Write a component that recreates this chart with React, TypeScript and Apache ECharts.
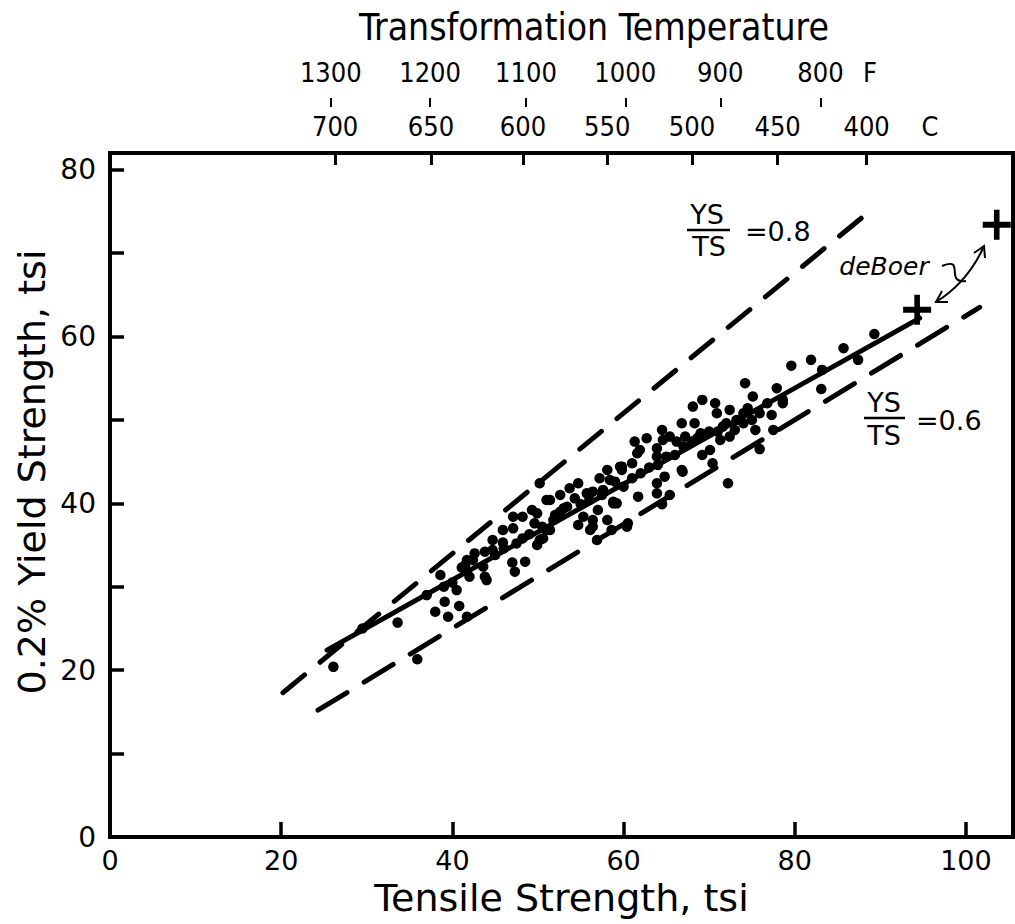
import React, { useEffect, useRef } from "react";
import * as echarts from "echarts";

// ---- Data ----
// Tensile strength (tsi) vs 0.2% yield strength (tsi) for each heat
const heats: number[][] = [
  [26.1, 20.4], [29.5, 25.0], [33.6, 25.7], [35.9, 21.3], [38.0, 27.0], [39.1, 28.2],
  [39.5, 26.4], [40.5, 29.6], [40.8, 27.7], [41.7, 26.4], [38.6, 31.4], [41.5, 32.6],
  [42.4, 33.2], [42.0, 31.2], [44.0, 30.8], [40.0, 30.5], [39.0, 30.0], [37.0, 29.0],
  [41.1, 32.3], [43.6, 32.4], [44.7, 34.4], [45.9, 36.8], [47.1, 38.4], [49.3, 39.2],
  [51.0, 40.4], [49.6, 37.6], [50.6, 35.8], [51.4, 36.8],
  [48.2, 38.4], [47.1, 37.0], [49.9, 38.8], [51.4, 40.4], [52.6, 41.0], [53.7, 41.8],
  [54.7, 42.4], [54.3, 40.6], [53.4, 39.6], [52.6, 39.0], [51.8, 38.0], [51.0, 36.8],
  [50.2, 35.6], [49.9, 35.0], [48.2, 35.8], [45.9, 35.3], [44.7, 35.6], [43.8, 34.2],
  [42.6, 34.0], [41.7, 33.2], [47.0, 32.9], [47.3, 31.8], [48.5, 33.0], [43.8, 31.2],
  [50.2, 42.4], [55.7, 41.2], [56.4, 41.4], [57.2, 43.0], [58.1, 44.0], [59.8, 44.4],
  [59.0, 42.6], [57.6, 41.6], [58.8, 40.2], [57.0, 39.2], [56.4, 38.0], [55.3, 38.4],
  [54.7, 37.4], [56.1, 36.8], [58.1, 38.0], [58.6, 36.8], [60.4, 37.2], [56.9, 35.6],
  [58.4, 42.8], [59.6, 44.4], [60.5, 37.6], [56.4, 37.2], [58.8, 40.0],
  [74.2, 54.4], [77.9, 53.8], [75.1, 52.8], [76.8, 52.0], [78.6, 52.4], [77.3, 50.6],
  [75.9, 50.8], [74.5, 51.4], [75.4, 48.8], [75.9, 46.5], [72.2, 42.4], [77.5, 48.8],
  [69.2, 52.4], [68.1, 51.6], [70.7, 52.0], [70.9, 50.8], [72.4, 51.2], [73.2, 50.0],
  [74.0, 50.8], [71.6, 49.2], [72.4, 48.0], [71.3, 47.6], [70.1, 46.4], [70.4, 44.8],
  [69.2, 45.8], [68.6, 47.8], [68.3, 49.6], [66.8, 49.6], [67.2, 48.0], [66.2, 47.4],
  [65.4, 48.0], [64.5, 48.8], [64.6, 47.6], [63.9, 46.6], [63.9, 45.6], [62.7, 47.8],
  [61.3, 47.4], [61.9, 46.4], [61.6, 46.0], [61.0, 44.8], [59.8, 44.0], [66.8, 44.0],
  [64.8, 43.2], [63.9, 42.4], [63.9, 41.2], [65.4, 41.0], [64.5, 39.9], [61.7, 40.8],
  [66.9, 43.8], [59.2, 40.0], [79.6, 56.5],
  [89.3, 60.3], [85.7, 58.6], [81.9, 57.2], [83.2, 56.0], [87.4, 57.2], [83.1, 53.7],
  [78.6, 52.0],
  [45.0, 33.8], [46.0, 34.6], [47.5, 35.2], [49.0, 36.3], [50.5, 37.2], [52.0, 38.6],
  [53.0, 39.4], [55.0, 39.9], [56.0, 40.4], [57.5, 41.0], [60.0, 42.0], [61.0, 43.0],
  [62.0, 43.6], [63.0, 44.3], [64.0, 44.6], [65.0, 45.6], [66.0, 45.8], [67.0, 46.8],
  [68.0, 47.4], [69.0, 48.4], [70.0, 48.6], [71.0, 48.6], [72.0, 49.6], [73.0, 48.8],
  [74.0, 49.6], [75.0, 50.0],
];

// deBoer points
const deBoer: number[][] = [[94.3, 63.2], [103.6, 73.4]];

// Reference lines (end points as drawn)
const ratio08Line: number[][] = [[20.2, 17.3], [88.5, 74.8]];
const ratio06Line: number[][] = [[24.3, 15.2], [101.6, 63.5]];
const fitLine: number[][] = [[25.35, 22.4], [94.6, 62.2]];

// Axes
const xTicks = [20, 40, 60, 80, 100];
const xLabels = [0, 20, 40, 60, 80, 100];
const yTicks = [10, 20, 30, 40, 50, 60, 70, 80];
const yLabels = [0, 20, 40, 60, 80];

// Transformation temperature scale (position on tensile-strength axis)
const tempC = [700, 650, 600, 550, 500, 450, 400];
const tempCX = [26.3, 37.5, 48.25, 58.1, 68.0, 78.0, 88.4];
const unitCX = 95.8;
const tempF = [1300, 1200, 1100, 1000, 900, 800];
const tempFX = [25.8, 37.4, 48.6, 60.2, 71.3, 83.0];
const unitFX = 88.8;

const FONT = "'DejaVu Sans', 'Liberation Sans', sans-serif";
const COND = "'DejaVu Sans Condensed', 'Liberation Sans Narrow', 'DejaVu Sans', sans-serif";

function near(a: number, b: number) {
  return Math.abs(a - b) < 1e-6;
}

export default function App() {
  const ref = useRef<HTMLDivElement>(null);
  useEffect(() => {
    if (!ref.current) return;
    const chart = echarts.init(ref.current, null, { renderer: "svg" });
    const black = "#000";
    const dashedSeries = (name: string, data: number[][], dash: number[]) => ({
      name,
      type: "line",
      data,
      showSymbol: false,
      symbol: "none",
      lineStyle: { color: black, width: 5, type: dash, cap: "round" },
      z: 3,
      silent: true,
    });
    chart.setOption({
      animation: false,
      backgroundColor: "#fff",
      grid: {
        left: 110,
        top: 153,
        width: 903,
        height: 684,
        show: true,
        borderColor: black,
        borderWidth: 4,
        backgroundColor: "transparent",
      },
      xAxis: [
        {
          type: "value",
          position: "bottom",
          min: 0,
          max: 105.5,
          name: "Tensile Strength, tsi",
          nameLocation: "middle",
          nameGap: 38,
          nameTextStyle: { fontSize: 38, fontFamily: FONT, color: black },
          axisLine: { show: false },
          splitLine: { show: false },
          axisTick: {
            inside: true,
            length: 15,
            lineStyle: { width: 3.5, color: black },
            customValues: xTicks,
          },
          axisLabel: {
            customValues: xLabels,
            fontSize: 27,
            fontFamily: FONT,
            color: black,
            margin: 10,
          },
        },
        {
          type: "value",
          position: "top",
          min: 0,
          max: 105.5,
          axisLine: { show: false },
          splitLine: { show: false },
          axisTick: {
            inside: true,
            length: 12,
            lineStyle: { width: 3, color: black },
            customValues: tempCX,
          },
          axisLabel: {
            customValues: [...tempCX, unitCX],
            fontSize: 27,
            fontFamily: COND,
            color: black,
            margin: 13,
            formatter: (v: number) => {
              const i = tempCX.findIndex((t) => near(t, v));
              if (i >= 0) return String(tempC[i]);
              return near(v, unitCX) ? "C" : "";
            },
          },
        },
        {
          type: "value",
          position: "top",
          offset: 46,
          min: 0,
          max: 105.5,
          axisLine: { show: false },
          splitLine: { show: false },
          axisTick: {
            inside: false,
            length: 9,
            lineStyle: { width: 2, color: black },
            customValues: tempFX,
          },
          axisLabel: {
            customValues: [...tempFX, unitFX],
            fontSize: 27,
            fontFamily: COND,
            color: black,
            margin: 21,
            formatter: (v: number) => {
              const i = tempFX.findIndex((t) => near(t, v));
              if (i >= 0) return String(tempF[i]);
              return near(v, unitFX) ? "F" : "";
            },
          },
        },
      ],
      yAxis: [
        {
          type: "value",
          min: 0,
          max: 82,
          axisLine: { show: false },
          splitLine: { show: false },
          axisTick: {
            inside: true,
            length: 14,
            lineStyle: { width: 3.5, color: black },
            customValues: yTicks,
          },
          axisLabel: {
            customValues: yLabels,
            fontSize: 28,
            fontFamily: FONT,
            color: black,
            margin: 14,
          },
        },
      ],
      series: [
        dashedSeries("YS/TS = 0.8", ratio08Line, [28, 20]),
        dashedSeries("YS/TS = 0.6", ratio06Line, [34, 20]),
        {
          name: "fit",
          type: "line",
          data: fitLine,
          showSymbol: false,
          symbol: "none",
          lineStyle: { color: black, width: 5, cap: "round" },
          z: 3,
          silent: true,
        },
        {
          name: "heats",
          type: "scatter",
          data: heats,
          symbol: "circle",
          symbolSize: 10.5,
          itemStyle: { color: black, opacity: 1 },
          z: 4,
          silent: true,
        },
        {
          name: "deBoer",
          type: "scatter",
          data: deBoer,
          symbol:
            "path://M0,12 L30,12 L30,18 L0,18 Z M12,0 L18,0 L18,30 L12,30 Z",
          symbolSize: [28, 30],
          itemStyle: { color: black, opacity: 1 },
          z: 5,
          silent: true,
        },
      ],
      graphic: [
        {
          type: "text",
          x: 594,
          y: 27,
          style: {
            text: "Transformation Temperature",
            fontSize: 37,
            fontFamily: COND,
            fill: black,
            align: "center",
            verticalAlign: "middle",
          },
        },
        {
          type: "text",
          x: 32,
          y: 472,
          rotation: Math.PI / 2,
          style: {
            text: "0.2% Yield Strength, tsi",
            fontSize: 38,
            fontFamily: FONT,
            fill: black,
            align: "center",
            verticalAlign: "middle",
          },
        },
        // YS/TS = 0.8
        {
          type: "text",
          x: 707,
          y: 214,
          style: { text: "YS", fontSize: 27, fontFamily: FONT, fill: black, align: "center", verticalAlign: "middle" },
        },
        {
          type: "line",
          shape: { x1: 687, y1: 230, x2: 730, y2: 230 },
          style: { stroke: black, lineWidth: 2.5 },
        },
        {
          type: "text",
          x: 709,
          y: 246,
          style: { text: "TS", fontSize: 27, fontFamily: FONT, fill: black, align: "center", verticalAlign: "middle" },
        },
        {
          type: "text",
          x: 745,
          y: 231,
          style: { text: "=0.8", fontSize: 27, fontFamily: FONT, fill: black, align: "left", verticalAlign: "middle" },
        },
        // YS/TS = 0.6
        {
          type: "text",
          x: 884,
          y: 402,
          style: { text: "YS", fontSize: 27, fontFamily: FONT, fill: black, align: "center", verticalAlign: "middle" },
        },
        {
          type: "line",
          shape: { x1: 864, y1: 418, x2: 905, y2: 418 },
          style: { stroke: black, lineWidth: 2.5 },
        },
        {
          type: "text",
          x: 884,
          y: 435,
          style: { text: "TS", fontSize: 27, fontFamily: FONT, fill: black, align: "center", verticalAlign: "middle" },
        },
        {
          type: "text",
          x: 916,
          y: 420,
          style: { text: "=0.6", fontSize: 27, fontFamily: FONT, fill: black, align: "left", verticalAlign: "middle" },
        },
        // deBoer annotation
        {
          type: "text",
          x: 884,
          y: 266,
          style: {
            text: "deBoer",
            fontSize: 25,
            fontStyle: "italic",
            fontFamily: FONT,
            fill: black,
            align: "center",
            verticalAlign: "middle",
          },
        },
        {
          type: "bezierCurve",
          shape: { x1: 942, y1: 266, cpx1: 966, cpy1: 256, cpx2: 944, cpy2: 284, x2: 966, y2: 281 },
          style: { stroke: black, lineWidth: 2, fill: "none" },
        },
        {
          type: "bezierCurve",
          shape: { x1: 936, y1: 302, cpx1: 968, cpy1: 282, x2: 984, y2: 246 },
          style: { stroke: black, lineWidth: 2, fill: "none" },
        },
        {
          type: "polyline",
          shape: { points: [[974, 253], [984, 246], [985, 258]] },
          style: { stroke: black, lineWidth: 2, fill: "none" },
        },
        {
          type: "polyline",
          shape: { points: [[948, 302], [936, 302], [942, 291]] },
          style: { stroke: black, lineWidth: 2, fill: "none" },
        },
      ],
    });
    return () => chart.dispose();
  }, []);
  return (
    <div
      ref={ref}
      style={{ position: "fixed", left: 0, top: 0, width: 1015, height: 924, background: "#fff" }}
    />
  );
}
